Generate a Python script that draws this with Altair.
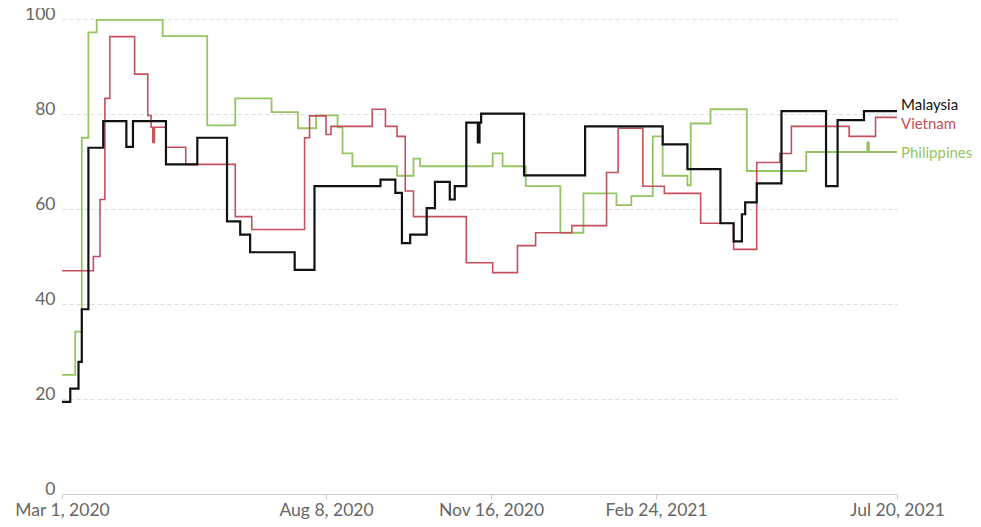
import altair as alt
import pandas as pd

malaysia_dates = ["2020-03-01", "2020-03-06", "2020-03-11", "2020-03-13", "2020-03-17", "2020-03-26",
                  "2020-04-09", "2020-04-13", "2020-05-03", "2020-05-22", "2020-06-09", "2020-06-17",
                  "2020-06-23", "2020-07-20", "2020-08-01", "2020-09-10", "2020-09-19", "2020-09-23",
                  "2020-09-28", "2020-10-08", "2020-10-13", "2020-10-22", "2020-10-25", "2020-11-01",
                  "2020-11-08", "2020-11-09", "2020-11-10", "2020-12-06", "2021-01-12", "2021-02-28",
                  "2021-03-15", "2021-04-04", "2021-04-12", "2021-04-17", "2021-04-19", "2021-04-26",
                  "2021-05-11", "2021-06-07", "2021-06-14", "2021-06-30", "2021-07-20"]
malaysia_values = [19.4, 22.2, 27.8, 38.9, 72.9, 78.5,
                   73.1, 78.5, 69.4, 75.0, 57.4, 54.6,
                   50.9, 47.2, 64.8, 66.2, 63.4, 52.8,
                   54.6, 60.2, 65.7, 62.0, 64.8, 78.2,
                   74.0, 78.2, 80.1, 67.1, 77.4, 73.6,
                   68.4, 57.0, 53.2, 58.9, 61.4, 65.4,
                   80.6, 64.8, 78.7, 80.6, 80.6]

vietnam_dates = ["2020-03-01", "2020-03-20", "2020-03-24", "2020-03-27", "2020-03-30", "2020-04-14",
                 "2020-04-22", "2020-04-24", "2020-04-25", "2020-04-26", "2020-05-03", "2020-05-15",
                 "2020-06-14", "2020-06-24", "2020-07-26", "2020-07-29", "2020-08-08", "2020-08-11",
                 "2020-09-05", "2020-09-13", "2020-09-20", "2020-09-25", "2020-09-30", "2020-11-01",
                 "2020-11-17", "2020-12-02", "2020-12-13", "2021-01-04", "2021-01-25", "2021-02-01",
                 "2021-02-16", "2021-03-01", "2021-03-23", "2021-04-12", "2021-04-26", "2021-05-10",
                 "2021-05-17", "2021-06-21", "2021-07-07", "2021-07-20"]
vietnam_values = [47.0, 50.0, 62.0, 83.3, 96.3, 88.4,
                  79.7, 77.2, 74.0, 77.2, 73.0, 69.4,
                  58.4, 55.7, 75.0, 79.6, 75.7, 77.4,
                  81.0, 77.4, 75.3, 63.8, 58.4, 48.7,
                  46.6, 52.3, 55.0, 56.5, 67.7, 77.0,
                  64.8, 63.3, 57.0, 51.5, 69.8, 71.7,
                  77.4, 75.3, 79.3, 79.3]

philippines_dates = ["2020-03-01", "2020-03-09", "2020-03-13", "2020-03-17", "2020-03-22", "2020-05-01",
                     "2020-05-28", "2020-06-14", "2020-07-06", "2020-07-22", "2020-08-02", "2020-08-15",
                     "2020-08-18", "2020-08-24", "2020-09-20", "2020-09-30", "2020-10-04", "2020-11-17",
                     "2020-11-23", "2020-12-07", "2020-12-28", "2021-01-11", "2021-01-31", "2021-02-09",
                     "2021-02-22", "2021-02-28", "2021-03-15", "2021-03-17", "2021-03-29", "2021-04-20",
                     "2021-05-26", "2021-07-02", "2021-07-03", "2021-07-20"]
philippines_values = [25.1, 34.2, 75.0, 97.2, 99.8, 96.4,
                      77.6, 83.3, 80.4, 77.0, 79.7, 77.2,
                      71.7, 69.0, 67.0, 70.6, 69.0, 71.7,
                      69.0, 64.8, 55.0, 63.3, 60.8, 62.7,
                      75.3, 67.0, 65.0, 78.0, 81.0, 68.0,
                      72.0, 74.0, 72.0, 72.0]

countries = ["Philippines", "Vietnam", "Malaysia"]
colors = ["#96c462", "#c4505e", "#111111"]
x_ticks = ["2020-03-01", "2020-08-08", "2020-11-16", "2021-02-24", "2021-07-20"]
y_ticks = [0, 20, 40, 60, 80, 100]

FONT = "Lato"

frames = []
for name, d, v in [("Philippines", philippines_dates, philippines_values),
                   ("Vietnam", vietnam_dates, vietnam_values),
                   ("Malaysia", malaysia_dates, malaysia_values)]:
    frames.append(pd.DataFrame({"country": name, "date": d, "value": v}))
df = pd.concat(frames, ignore_index=True)

def dt(s):
    y, m, d = (int(p) for p in s.split("-"))
    return alt.DateTime(year=y, month=m, date=d, utc=True)

x_scale = alt.Scale(type="utc", domain=[dt(x_ticks[0]), dt(x_ticks[-1])], nice=False)
y_scale = alt.Scale(domain=[0, 100], nice=False)

x_enc = alt.X("date:T", scale=x_scale, title=None,
              axis=alt.Axis(values=[dt(s) for s in x_ticks], format="%b %-d, %Y",
                            labelFont=FONT, labelFontSize=17.5, labelColor="#666666",
                            labelOverlap=False, labelFlush=False, labelPadding=2,
                            domainColor="#cccccc", tickColor="#cccccc", tickSize=5,
                            grid=False))
y_enc = alt.Y("value:Q", scale=y_scale, title=None,
              axis=alt.Axis(values=y_ticks, labelFont=FONT, labelFontSize=17.5,
                            labelColor="#666666", labelPadding=7, labelOffset=-5,
                            ticks=False, domain=False, grid=True, gridColor="#dddddd",
                            gridDash=[4, 3], gridWidth=1))

base = alt.Chart(df)

lines = []
for name, col, w in [("Philippines", colors[0], 1.8), ("Vietnam", colors[1], 1.6), ("Malaysia", colors[2], 2.2)]:
    lines.append(
        base.transform_filter(alt.datum.country == name)
        .mark_line(interpolate="step-after", strokeWidth=w, color=col)
        .encode(x=x_enc, y=y_enc)
    )

last = df.groupby("country", as_index=False).last()

labels = []
for name, col, dy in [("Malaysia", "#111111", -6), ("Vietnam", colors[1], 7), ("Philippines", colors[0], 1)]:
    labels.append(
        alt.Chart(last[last["country"] == name])
        .mark_text(align="left", baseline="middle", dx=4, dy=dy, font=FONT, fontSize=15, color=col)
        .encode(x=alt.X("date:T", scale=x_scale), y=alt.Y("value:Q", scale=y_scale), text="country:N")
    )

chart = alt.layer(*lines, *labels).properties(
    width=835, height=475,
    autosize=alt.AutoSizeParams(type="none"),
    padding={"left": 54, "top": 11, "right": 76, "bottom": 25},
).configure_view(stroke=None)

chart.save("out.html", embed_options={"renderer": "svg", "actions": False})
